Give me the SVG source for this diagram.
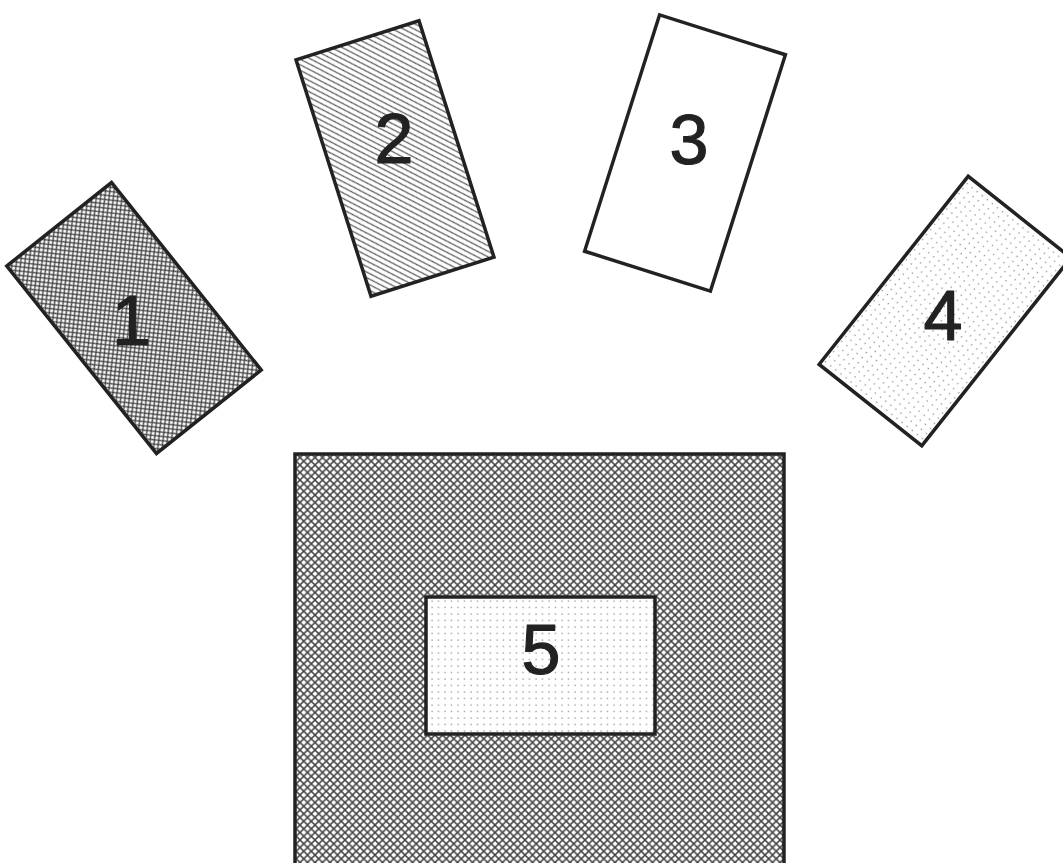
<svg xmlns="http://www.w3.org/2000/svg" width="1063" height="863" viewBox="0 0 1063 863">
<defs>
<pattern id="crossFine" width="6" height="6" patternUnits="userSpaceOnUse">
<rect width="6" height="6" fill="#fff"/>
<path d="M0,0L6,6M0,6L6,0" stroke="#444" stroke-width="1.3"/>
</pattern>
<pattern id="crossCoarse" width="7.5" height="7.5" patternUnits="userSpaceOnUse">
<rect width="7.5" height="7.5" fill="#fff"/>
<path d="M0,0L7.5,7.5M0,7.5L7.5,0" stroke="#444" stroke-width="1.5"/>
</pattern>
<pattern id="hatch" width="7" height="7" patternUnits="userSpaceOnUse">
<rect width="7" height="7" fill="#fff"/>
<path d="M-1,8L8,-1M-1,1L1,-1M6,8L8,6" stroke="#444" stroke-width="1.1"/>
</pattern>
<pattern id="dots" width="6.5" height="6.5" patternUnits="userSpaceOnUse">
<rect width="6.5" height="6.5" fill="#fff"/>
<circle cx="3" cy="3" r="0.7" fill="#777"/>
</pattern>
</defs>
<style>
.box{stroke:#222;stroke-width:3.5}
.lbl{font-family:"Liberation Sans",Arial,sans-serif;font-size:70px;fill:#222;stroke:#222;stroke-width:1.2;text-anchor:middle}
</style>
<rect width="1063" height="863" fill="#fff"/>
<g id="node1">
<rect class="box" x="-120" y="-67" width="240" height="134" fill="url(#crossFine)" transform="translate(134,318) rotate(51.4)"/>
<text class="lbl" x="131.5" y="345">1</text>
</g>
<g id="node2">
<rect class="box" x="-124" y="-64.5" width="248" height="129" fill="url(#hatch)" transform="translate(395,158.5) rotate(72.4)"/>
<text class="lbl" x="394" y="163">2</text>
</g>
<g id="node3">
<rect class="box" x="-124" y="-66" width="248" height="132" fill="#fff" transform="translate(685,153) rotate(107.6)"/>
<text class="lbl" x="689" y="164">3</text>
</g>
<g id="node4">
<rect class="box" x="-120" y="-65.5" width="240" height="131" fill="url(#dots)" transform="translate(945,311) rotate(-51.6)"/>
<text class="lbl" x="943" y="340">4</text>
</g>
<g id="node5">
<rect class="box" x="295" y="454" width="489" height="430" fill="url(#crossCoarse)"/>
<rect class="box" x="426" y="597" width="229" height="137" fill="url(#dots)"/>
<text class="lbl" x="541" y="674">5</text>
</g>
<g id="connectors"/>
</svg>
